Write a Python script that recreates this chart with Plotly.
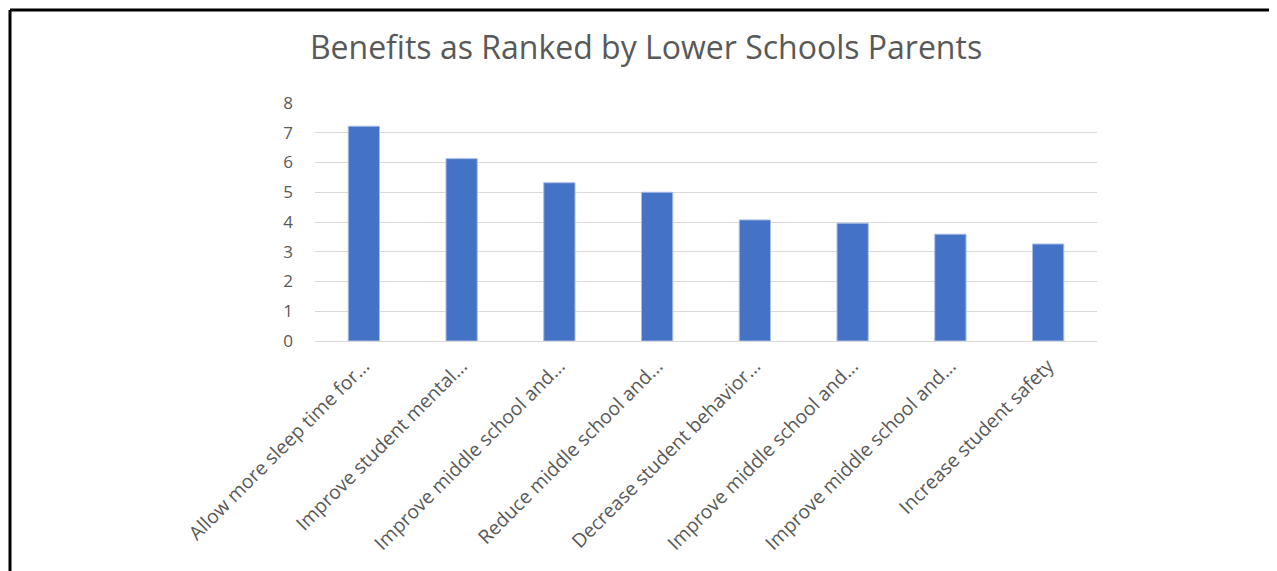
import plotly.graph_objects as go

categories = [
    "Allow more sleep time for...",
    "Improve student mental...",
    "Improve middle school and...",
    "Reduce middle school and...",
    "Decrease student behavior...",
    "Improve middle school and...",
    "Improve middle school and...",
    "Increase student safety",
]
values = [7.22, 6.13, 5.32, 5.0, 4.07, 3.96, 3.59, 3.26]
y_ticks = [0, 1, 2, 3, 4, 5, 6, 7, 8]
title_text = "Benefits as Ranked by Lower Schools Parents"

# page has an 8px body margin; work in figure coordinates
OFF = 8
W, H = 1277 - OFF, 571 - OFF
L, R, T, B = 315 - OFF, 1097 - OFF, 103 - OFF, 341 - OFF

x_idx = list(range(len(categories)))

fig = go.Figure(
    go.Bar(
        x=x_idx,
        y=values,
        marker=dict(color="#4472C4", line=dict(color="#A9BDE6", width=1)),
        width=0.32,
        hoverinfo="skip",
    )
)

fig.update_layout(
    width=W,
    height=H,
    margin=dict(l=L, r=W - R, t=T, b=H - B, pad=0),
    plot_bgcolor="white",
    paper_bgcolor="white",
    showlegend=False,
    title=dict(
        text=title_text,
        x=((307 + 985) / 2 - OFF) / W,
        xanchor="center",
        y=1 - (48 - OFF) / H,
        yanchor="middle",
        font=dict(family="Open Sans", size=32, color="#595959"),
    ),
    font=dict(family="Open Sans", color="#595959"),
)

fig.update_xaxes(
    tickmode="array",
    tickvals=x_idx,
    ticktext=categories,
    tickangle=-45,
    range=[-0.5, len(categories) - 0.5],
    showgrid=False,
    showline=False,
    zeroline=False,
    ticks="",
    ticklabelstandoff=9,
    tickfont=dict(family="Open Sans", size=19.3, color="#595959"),
)
fig.update_yaxes(
    tickmode="array",
    tickvals=y_ticks,
    range=[0, 8],
    showgrid=True,
    gridcolor="#D9D9D9",
    gridwidth=1,
    zeroline=True,
    zerolinecolor="#D9D9D9",
    zerolinewidth=1,
    showline=False,
    ticks="",
    ticklabelstandoff=21,
    tickfont=dict(family="Open Sans", size=17, color="#595959"),
)

# outer frame (top and left edges visible)
pw, ph = R - L, B - T
def px(xp):
    return (xp - OFF - L) / pw
def py(yp):
    return (B - (yp - OFF)) / ph

fig.add_shape(type="line", xref="paper", yref="paper",
              x0=px(10), y0=py(10), x1=px(1290), y1=py(10),
              line=dict(color="black", width=3))
fig.add_shape(type="line", xref="paper", yref="paper",
              x0=px(10), y0=py(10), x1=px(10), y1=py(600),
              line=dict(color="black", width=3))

fig.write_html("out.html", config={"displayModeBar": False})
